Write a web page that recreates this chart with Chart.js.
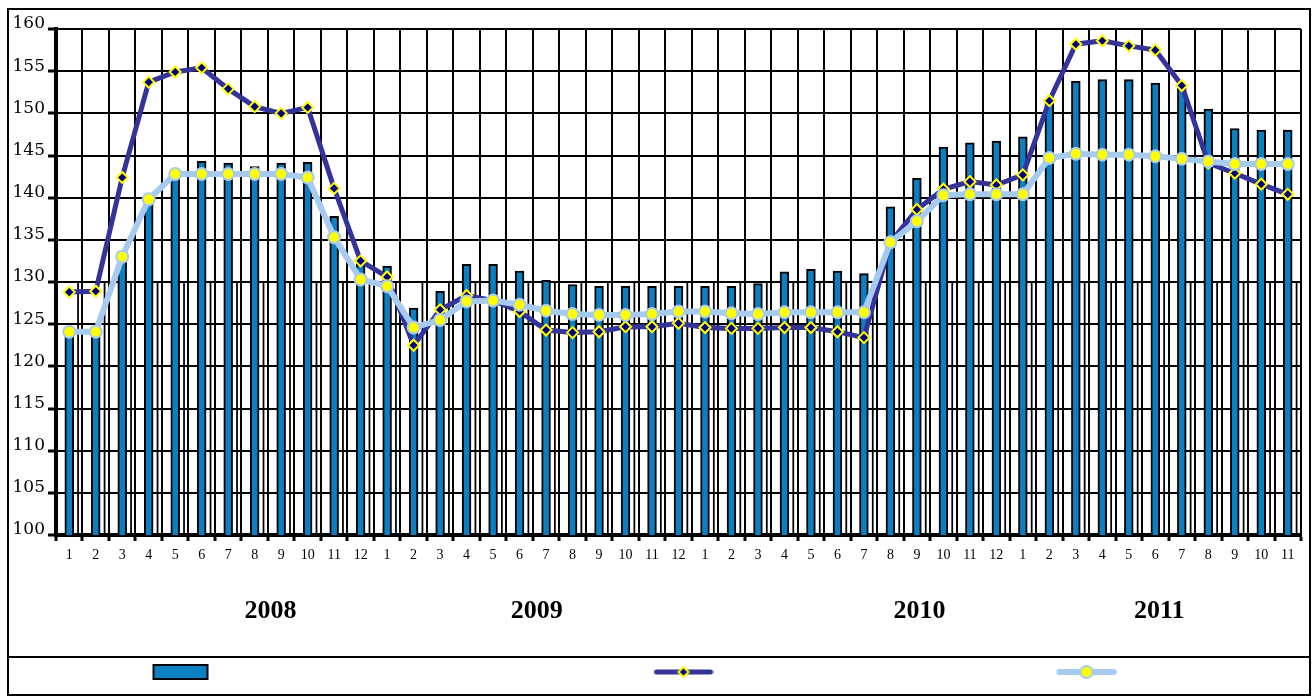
<!DOCTYPE html>
<html>
<head>
<meta charset="utf-8">
<script src="https://cdn.jsdelivr.net/npm/chart.js@4.4.1/dist/chart.umd.min.js"></script>
<style>
html, body { margin: 0; padding: 0; background: #fff; }
#frame { position: absolute; left: 7px; top: 8px; width: 1304px; height: 688px; border: 2px solid #000; box-sizing: border-box; }
#wrap { position: absolute; left: 0; top: 0; width: 1300px; height: 684px; }
#legendLine { position: absolute; left: 0; right: 0; top: 646px; border-top: 2px solid #000; }
</style>
</head>
<body>
<div id="frame">
  <div id="wrap"><canvas id="canvas"></canvas></div>
  <div id="legendLine"></div>
</div>
<script>
// months 2008-01 .. 2011-11
const months = [
    '1','2','3','4','5','6','7','8','9','10','11','12',
    '1','2','3','4','5','6','7','8','9','10','11','12',
    '1','2','3','4','5','6','7','8','9','10','11','12',
    '1','2','3','4','5','6','7','8','9','10','11'
];
const yearLabels = ['2008', '2009', '2010', '2011'];
// where each year caption sits, in category index units
const yearAt = [7.6, 17.65, 32.1, 41.15];

// bars
const barValues = [
    124.0, 124.0, 133.0, 140.0, 143.0, 144.3, 144.1, 143.7, 144.1, 144.2, 137.8, 132.8,
    131.9, 126.9, 128.9, 132.1, 132.1, 131.3, 130.2, 129.7, 129.5, 129.5, 129.5, 129.5,
    129.5, 129.5, 129.8, 131.2, 131.5, 131.3, 131.0, 138.9, 142.3, 146.0, 146.5, 146.7,
    147.2, 151.5, 153.8, 154.0, 154.0, 153.6, 153.0, 150.5, 148.2, 148.0, 148.0
];
// dark line with diamonds
const darkLine = [
    128.8, 128.9, 142.4, 153.7, 154.9, 155.4, 152.9, 150.8, 150.0, 150.7, 141.1, 132.5,
    130.6, 122.5, 126.7, 128.4, 127.8, 126.5, 124.3, 124.0, 124.1, 124.7, 124.7, 125.1,
    124.6, 124.5, 124.5, 124.6, 124.6, 124.1, 123.4, 134.7, 138.6, 141.0, 141.9, 141.5,
    142.7, 151.5, 158.2, 158.6, 158.0, 157.5, 153.3, 144.1, 142.9, 141.6, 140.4
];
// light line with circles
const lightLine = [
    124.1, 124.1, 133.0, 139.8, 142.8, 142.8, 142.8, 142.8, 142.8, 142.4, 135.3, 130.3,
    129.5, 124.6, 125.5, 127.7, 127.8, 127.3, 126.6, 126.2, 126.1, 126.1, 126.2, 126.5,
    126.5, 126.3, 126.2, 126.4, 126.4, 126.4, 126.4, 134.7, 137.2, 140.3, 140.4, 140.4,
    140.4, 144.7, 145.2, 145.1, 145.1, 144.9, 144.6, 144.3, 144.0, 144.0, 144.0
];
// the second (hollow) bar series that only shows as thin lines up to 130
const hollowBars = [
    130, 130, 130, 130, 130, 130, 130, 130, 130, 130, 130, 130,
    130, 130, 130, 130, 130, 130, 130, 130, 130, 130, 130, 130,
    130, 130, 130, 130, 130, 130, 130, 130, 130, 130, 130, 130,
    130, 130, 130, 130, 130, 130, 130, 130, 130, 130, 130
];
const emptySlot = months.map(() => null);

const BLUE = '#0a7fc2';
const NAVY = '#333399';
const LIGHT = '#a6caf0';
const YELLOW = '#ffff00';
const FONT = '"Liberation Serif", "Times New Roman", serif';

//legend glyphs, shifted inside the image so they land where the original has them
function glyph(kind, offset) {
    const c = document.createElement('canvas');
    c.width = 60 + 2 * Math.abs(offset);
    c.height = 18;
    const g = c.getContext('2d');
    const cx = c.width / 2 + offset, cy = 9;
    if (kind === 'bar') {
        g.fillStyle = BLUE;
        g.fillRect(cx - 27, cy - 7, 54, 14);
        g.strokeStyle = '#000';
        g.lineWidth = 2;
        g.strokeRect(cx - 27, cy - 7, 54, 14);
    } else {
        g.strokeStyle = kind === 'dark' ? NAVY : LIGHT;
        g.lineWidth = kind === 'dark' ? 5 : 6;
        g.lineCap = 'round';
        g.beginPath();
        g.moveTo(cx - 27, cy);
        g.lineTo(cx + 27, cy);
        g.stroke();
        if (kind === 'dark') {
            g.beginPath();
            g.moveTo(cx, cy - 5); g.lineTo(cx + 5, cy); g.lineTo(cx, cy + 5); g.lineTo(cx - 5, cy);
            g.closePath();
            g.fillStyle = '#000080';
            g.fill();
            g.strokeStyle = YELLOW;
            g.lineWidth = 2;
            g.stroke();
        } else {
            g.beginPath();
            g.arc(cx, cy, 6, 0, Math.PI * 2);
            g.fillStyle = YELLOW;
            g.fill();
            g.strokeStyle = LIGHT;
            g.lineWidth = 2;
            g.stroke();
        }
    }
    return c;
}
const legendGlyphs = [glyph('bar', -158), glyph('dark', 28), glyph('light', 114)];

const ctx = document.getElementById('canvas').getContext('2d');
new Chart(ctx, {
    type: 'bar',
    data: {
        labels: months,
        datasets: [
            {
                type: 'line', label: '', data: lightLine, xAxisID: 'x', order: 0,
                borderColor: LIGHT, borderWidth: 6, tension: 0,
                pointStyle: 'circle', pointRadius: 6, pointBackgroundColor: YELLOW,
                pointBorderColor: LIGHT, pointBorderWidth: 2
            },
            {
                type: 'line', label: '', data: darkLine, xAxisID: 'x', order: 1,
                borderColor: NAVY, borderWidth: 5, tension: 0,
                pointStyle: 'rectRot', pointRadius: 5.5, pointBackgroundColor: '#000080',
                pointBorderColor: YELLOW, pointBorderWidth: 2
            },
            { label: '', data: emptySlot, xAxisID: 'x', order: 2, categoryPercentage: 1, barPercentage: 1 },
            {
                label: '', data: barValues, xAxisID: 'x', order: 3,
                backgroundColor: BLUE, borderColor: '#000', borderWidth: 2,
                categoryPercentage: 1, barPercentage: 1
            },
            {
                label: '', data: hollowBars, xAxisID: 'x', order: 4,
                backgroundColor: '#000', borderWidth: 0,
                categoryPercentage: 1, barPercentage: 0.2
            }
        ]
    },
    options: {
        responsive: true,
        maintainAspectRatio: false,
        animation: false,
        layout: { padding: { top: 19, bottom: 5, left: 0, right: 0 } },
        plugins: {
            tooltip: { enabled: false },
            legend: {
                position: 'bottom',
                labels: {
                    usePointStyle: true,
                    pointStyleWidth: 300,
                    boxHeight: 14,
                    padding: 10,
                    font: { size: 14, family: FONT },
                    generateLabels: function (chart) {
                        return [3, 1, 0].map((ds, i) => ({
                            text: '',
                            datasetIndex: ds,
                            pointStyle: legendGlyphs[i],
                            hidden: !chart.isDatasetVisible(ds),
                            lineWidth: 0
                        }));
                    }
                }
            }
        },
        scales: {
            x: {
                type: 'category',
                position: 'bottom',
                grid: { color: '#000', lineWidth: 2, tickLength: 6, tickWidth: 3, tickColor: '#000', offset: true },
                border: { color: '#000', width: 4 },
                ticks: { color: '#000', font: { size: 14, family: FONT }, padding: 6, maxRotation: 0, autoSkip: false },
                afterFit: function (s) { s.height = 30; }
            },
            x2: {
                type: 'linear',
                position: 'bottom',
                offset: false,
                min: -0.5,
                max: 46.5,
                grid: { display: false, drawTicks: false, offset: false },
                border: { display: false },
                afterBuildTicks: function (s) { s.ticks = yearAt.map(v => ({ value: v })); },
                ticks: {
                    color: '#000', padding: 31, autoSkip: false, maxRotation: 0,
                    font: { size: 26, weight: 'bold', family: FONT },
                    callback: function (value, index) { return yearLabels[index]; }
                },
                afterFit: function (s) { s.height = 90; }
            },
            y: {
                min: 100,
                max: 160,
                grid: { color: '#000', lineWidth: 2, tickLength: 8, tickWidth: 3, tickColor: '#000' },
                border: { color: '#000', width: 4 },
                ticks: { stepSize: 5, color: '#000', padding: 3, labelOffset: -5, font: { size: 17, family: '"DejaVu Serif", serif' } },
                afterFit: function (s) { s.width = 47; }
            }
        }
    }
});
</script>
</body>
</html>
